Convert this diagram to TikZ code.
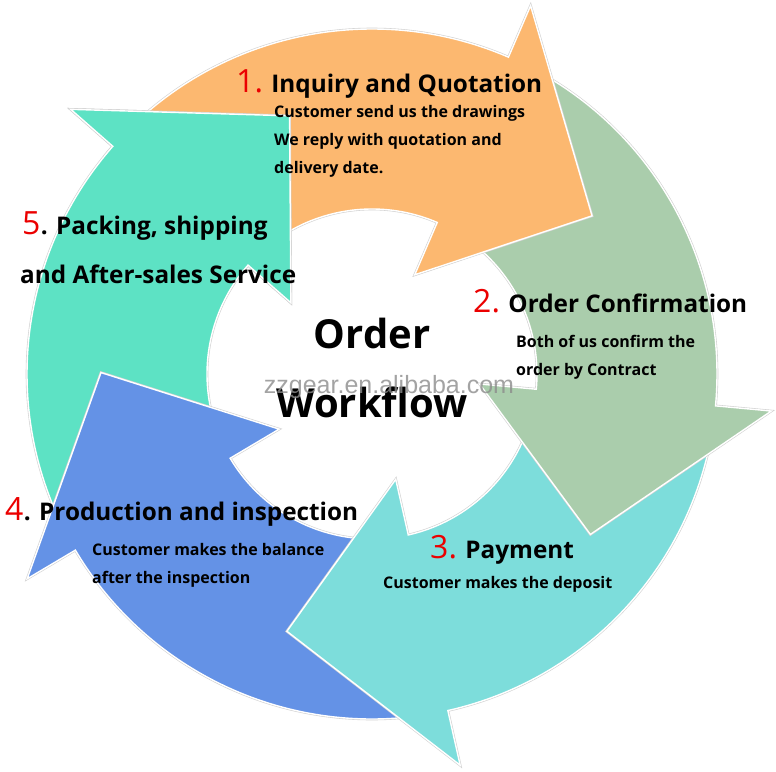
\documentclass[tikz,border=0pt]{standalone}
\usepackage{fontspec}
\setmainfont{Open Sans}
\newfontfamily\wmfont{Liberation Sans}
\usetikzlibrary{positioning}

\definecolor{wfOrange}{RGB}{252,184,112}
\definecolor{wfSage}{RGB}{170,205,172}
\definecolor{wfCyan}{RGB}{125,221,219}
\definecolor{wfBlue}{RGB}{100,146,230}
\definecolor{wfMint}{RGB}{93,226,196}
\definecolor{wfRed}{RGB}{235,0,0}

\tikzset{
  wfarrow/.style={draw=white, line width=1.4pt, line join=miter,
    preaction={draw=black!18, line width=2.6pt}},
  num/.style={font=\fontsize{32}{36}\selectfont, text=wfRed, inner sep=0pt},
  ttl/.style={font=\fontsize{24.3}{28}\selectfont\bfseries, inner sep=0pt},
  sub/.style={font=\fontsize{16}{28}\selectfont\bfseries, align=left, inner sep=0pt},
  hub/.style={font=\fontsize{40}{48}\selectfont\bfseries, inner sep=0pt},
  wmark/.style={font=\wmfont\fontsize{25}{30}\selectfont, text=black!45, opacity=0.8, inner sep=0pt}
}

% #1 fill colour, #2 angle of the arrow head base
\newcommand{\wfarrow}[2]{%
  \draw[wfarrow, fill=#1] ({#2+70}:345) arc[start angle={#2+70}, end angle={#2}, radius=345pt]
    -- (#2:401) -- ({#2-31}:271) -- (#2:108) -- (#2:165)
    arc[start angle={#2}, end angle={#2+70}, radius=165pt] -- cycle;}

\begin{document}
\begin{tikzpicture}[x=1pt,y=1pt]
\useasboundingbox (-372,-397) rectangle (404,374);

\wfarrow{wfMint}{138.7}
\wfarrow{wfBlue}{-149.3}
\wfarrow{wfCyan}{-77.3}
\wfarrow{wfSage}{-5.3}
\wfarrow{wfOrange}{66.7}
\begin{scope}
\clip (0,0) -- (104:520) arc[start angle=104, end angle=141, radius=520pt] -- cycle;
\wfarrow{wfMint}{138.7}
\end{scope}

\node[num, anchor=base west] (n1) at (-136,281) {1.};
\node[ttl, base right=8pt of n1] (t1) {Inquiry and Quotation};
\node[sub, anchor=north west] (s1) at (-98,269.2) {Customer send us the drawings\\We reply with quotation and\\delivery date.};

\node[num, anchor=base west] (n2) at (101,61) {2.};
\node[ttl, base right=8pt of n2] (t2) {Order Confirmation};
\node[sub, anchor=north west] (s2) at (144,39.2) {Both of us confirm the\\order by Contract};

\node[num, anchor=base west] (n3) at (58,-184) {3.};
\node[ttl, base right=8pt of n3] (t3) {Payment};
\node[sub, anchor=north west] (s3) at (11,-201.8) {Customer makes the deposit};

\node[num, anchor=base west] (n4) at (-367,-146) {4};
\node[ttl, base right=0pt of n4] (t4) {. Production and inspection};
\node[sub, anchor=north west] (s4) at (-280,-168.8) {Customer makes the balance\\after the inspection};

\node[num, anchor=base west] (n5) at (-350,139) {5};
\node[ttl, base right=0pt of n5] (t5) {. Packing, shipping};
\node[ttl, anchor=base west] (t5b) at (-352,90) {and After-sales Service};

\node[hub, anchor=base] (hub1) at (0,26) {Order};
\node[hub, anchor=base] (hub2) at (0,-43) {Workflow};
\node[wmark, anchor=base] (wm) at (17,-19) {zzgear.en.alibaba.com};
\end{tikzpicture}
\end{document}
